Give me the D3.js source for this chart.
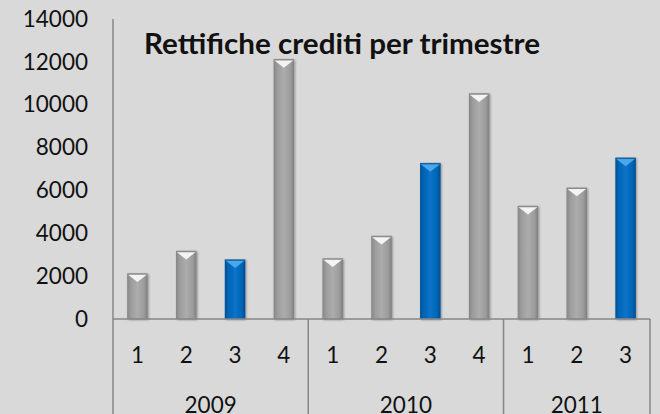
<!DOCTYPE html>
<html>
<head>
<meta charset="utf-8">
<script src="https://cdn.jsdelivr.net/npm/d3@7"></script>
<style>
  html, body { margin: 0; padding: 0; background: #d9d9d9; }
  svg { display: block; font-family: Lato, "Open Sans", sans-serif; }
</style>
</head>
<body>
<svg></svg>
<script>
// data
const years = ["2009", "2010", "2011"]
const quarters = ["1", "2", "3", "4", "1", "2", "3", "4", "1", "2", "3"]
const yearOf = ["2009", "2009", "2009", "2009", "2010", "2010", "2010", "2010", "2011", "2011", "2011"]
const values = [2100, 3150, 2750, 12100, 2800, 3850, 7250, 10500, 5250, 6100, 7500]
const yTicks = [0, 2000, 4000, 6000, 8000, 10000, 12000, 14000]
const title = "Rettifiche crediti per trimestre"

const width = 660, height = 414
const plotLeft = 113, plotRight = 650, base = 319, plotTop = 19
const axisColor = "#868686"
const fontSize = 22.5

const svg = d3.select("svg")
    .attr("width", width)
    .attr("height", height)

svg.append("rect").attr("width", width).attr("height", height).attr("fill", "#d9d9d9")

const defs = svg.append("defs")

function hGrad(id, stops) {
    const g = defs.append("linearGradient").attr("id", id)
        .attr("x1", "0%").attr("x2", "100%").attr("y1", "0%").attr("y2", "0%")
    stops.forEach(s => g.append("stop").attr("offset", s[0]).attr("stop-color", s[1]))
}
hGrad("gray", [["0%", "#858585"], ["18%", "#9c9c9c"], ["50%", "#acacac"], ["82%", "#9c9c9c"], ["100%", "#7e7e7e"]])
hGrad("blue", [["0%", "#004f94"], ["18%", "#0066b8"], ["50%", "#0a72c8"], ["82%", "#0066b8"], ["100%", "#004a8c"]])

const shadow = defs.append("filter").attr("id", "shadow")
    .attr("x", "-30%").attr("y", "-10%").attr("width", "160%").attr("height", "120%")
shadow.append("feDropShadow").attr("dx", 1).attr("dy", 1).attr("stdDeviation", 1.2)
    .attr("flood-color", "#000").attr("flood-opacity", 0.35)

const x = d3.scaleBand()
    .domain(d3.range(values.length))
    .range([plotLeft, plotRight])
    .padding(0)

const y = d3.scaleLinear()
    .domain([0, 14000])
    .range([base, plotTop])

const barW = x.bandwidth() * 0.42

// y axis labels
const yAxis = svg.append("g")
    .attr("transform", `translate(${plotLeft},0)`)
    .call(d3.axisLeft(y).tickValues(yTicks).tickSize(0).tickPadding(25).tickFormat(d3.format("d")))
yAxis.select(".domain").remove()
yAxis.selectAll("text")
    .attr("font-family", "Lato, sans-serif")
    .attr("font-size", fontSize)
    .attr("fill", "#111")

// bars
const bars = svg.append("g").selectAll("g")
    .data(values)
    .join("g")
    .attr("filter", "url(#shadow)")

bars.append("rect")
    .attr("x", (d, i) => x(i) + (x.bandwidth() - barW) / 2)
    .attr("y", d => y(d))
    .attr("width", barW)
    .attr("height", d => base - y(d))
    .attr("fill", (d, i) => quarters[i] === "3" ? "url(#blue)" : "url(#gray)")

// bevelled tops
bars.append("path")
    .attr("d", (d, i) => {
        const x0 = x(i) + (x.bandwidth() - barW) / 2, x1 = x0 + barW, yt = y(d)
        return `M${x0},${yt}L${x1},${yt}L${x0 + barW / 2},${yt + 8}Z`
    })
    .attr("fill", (d, i) => quarters[i] === "3" ? "#4aa8ec" : "#f4f4f4")
bars.append("path")
    .attr("d", (d, i) => {
        const x0 = x(i) + (x.bandwidth() - barW) / 2, x1 = x0 + barW, yt = y(d)
        return `M${x0},${yt}L${x1},${yt}`
    })
    .attr("stroke", (d, i) => quarters[i] === "3" ? "#1d5f99" : "#8a8a8a")
    .attr("stroke-width", 1.5)

// axis lines
svg.append("line")
    .attr("x1", plotLeft).attr("x2", plotLeft).attr("y1", plotTop).attr("y2", height)
    .attr("stroke", axisColor).attr("stroke-width", 1.5)
svg.append("line")
    .attr("x1", plotLeft).attr("x2", plotRight).attr("y1", base).attr("y2", base)
    .attr("stroke", axisColor).attr("stroke-width", 1.5)

// year separators
const groups = years.map(yr => {
    const idx = yearOf.map((v, i) => v === yr ? i : -1).filter(i => i >= 0)
    return { year: yr, first: idx[0], last: idx[idx.length - 1] }
})
svg.append("g").selectAll("line")
    .data(groups)
    .join("line")
    .attr("x1", g => x(g.last) + x.bandwidth())
    .attr("x2", g => x(g.last) + x.bandwidth())
    .attr("y1", base).attr("y2", height)
    .attr("stroke", axisColor).attr("stroke-width", 1.5)

// quarter labels
svg.append("g").selectAll("text")
    .data(quarters)
    .join("text")
    .attr("x", (d, i) => x(i) + x.bandwidth() / 2)
    .attr("y", 363)
    .attr("text-anchor", "middle")
    .attr("font-size", fontSize)
    .attr("fill", "#111")
    .text(d => d)

// year labels (cut by the bottom edge, as in the original)
svg.append("g").selectAll("text")
    .data(groups)
    .join("text")
    .attr("x", g => (x(g.first) + x(g.last) + x.bandwidth()) / 2)
    .attr("y", 413)
    .attr("text-anchor", "middle")
    .attr("font-size", fontSize)
    .attr("fill", "#111")
    .text(g => g.year)

// title
svg.append("text")
    .attr("x", 144)
    .attr("y", 54)
    .attr("font-size", 28)
    .attr("font-weight", "bold")
    .attr("textLength", 396)
    .attr("lengthAdjust", "spacingAndGlyphs")
    .attr("fill", "#111")
    .text(title)
</script>
</body>
</html>
